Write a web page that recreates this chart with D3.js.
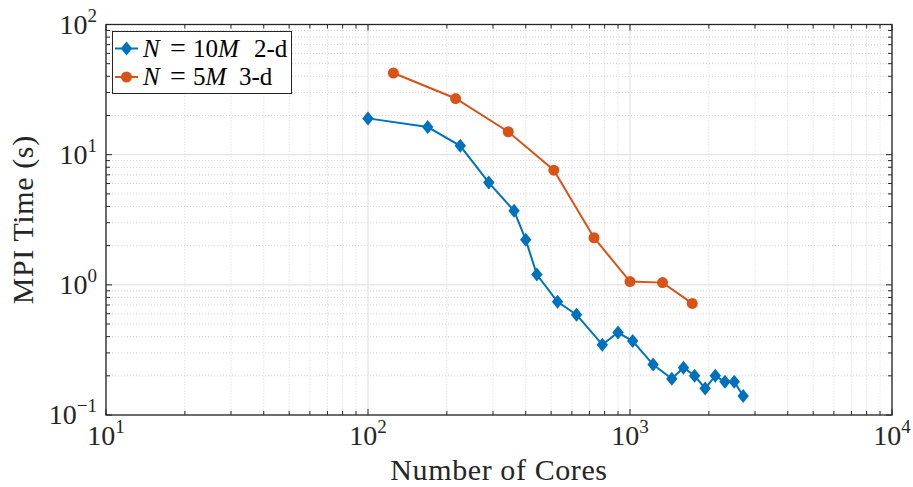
<!DOCTYPE html>
<html>
<head>
<meta charset="utf-8">
<script src="https://cdn.jsdelivr.net/npm/d3@7"></script>
<style>
  body { margin: 0; background: #fff; }
  svg { font-family: "Liberation Serif", "DejaVu Serif", serif; }
</style>
</head>
<body>
<svg id="chart" width="913" height="487"></svg>
<script>
// data
let coresSquare = [100, 169, 225, 289, 361, 400, 441, 529, 625, 784, 900, 1024, 1225, 1444, 1600, 1764, 1936, 2116, 2304, 2500, 2704];
let time2d = [19.0, 16.3, 11.7, 6.1, 3.7, 2.22, 1.2, 0.74, 0.59, 0.347, 0.43, 0.37, 0.244, 0.19, 0.231, 0.2, 0.16, 0.2, 0.18, 0.18, 0.14];
let coresCube = [125, 216, 343, 512, 729, 1000, 1331, 1728];
let time3d = [42.4, 27.0, 15.0, 7.6, 2.3, 1.06, 1.04, 0.72];
let xTickExps = [1, 2, 3, 4];
let yTickExps = [-1, 0, 1, 2];

const svg = d3.select('#chart');
const pLeft = 106, pRight = 892, pTop = 24.5, pBottom = 415;
const axisColor = '#262626';
const blue = '#0072BD', orange = '#D95319';

let x = d3.scaleLog().domain([10, 1e4]).range([pLeft, pRight]);
let y = d3.scaleLog().domain([0.1, 100]).range([pBottom, pTop]);

// minor/major values
let xMajor = xTickExps.map(e => Math.pow(10, e));
let yMajor = yTickExps.map(e => Math.pow(10, e));
let xMinor = [], yMinor = [];
for (let e = 1; e < 4; e++) for (let k = 2; k < 10; k++) xMinor.push(k * Math.pow(10, e));
for (let e = -1; e < 2; e++) for (let k = 2; k < 10; k++) yMinor.push(k * Math.pow(10, e));

let grid = svg.append('g');
// minor grid (dotted)
xMinor.forEach(v => grid.append('line')
    .attr('x1', x(v)).attr('x2', x(v)).attr('y1', pTop).attr('y2', pBottom)
    .attr('stroke', '#d4d4d4').attr('stroke-width', 1).attr('stroke-dasharray', '1,2'));
yMinor.forEach(v => grid.append('line')
    .attr('y1', y(v)).attr('y2', y(v)).attr('x1', pLeft).attr('x2', pRight)
    .attr('stroke', '#d4d4d4').attr('stroke-width', 1).attr('stroke-dasharray', '1,2'));
// major grid
xMajor.forEach(v => grid.append('line')
    .attr('x1', x(v)).attr('x2', x(v)).attr('y1', pTop).attr('y2', pBottom)
    .attr('stroke', '#e3e3e3').attr('stroke-width', 1.2));
yMajor.forEach(v => grid.append('line')
    .attr('y1', y(v)).attr('y2', y(v)).attr('x1', pLeft).attr('x2', pRight)
    .attr('stroke', '#e3e3e3').attr('stroke-width', 1.2));

// ticks on all four sides, pointing inward
let ticks = svg.append('g').attr('stroke', axisColor).attr('stroke-width', 1);
function xTick(v, len) {
    ticks.append('line').attr('x1', x(v)).attr('x2', x(v)).attr('y1', pBottom).attr('y2', pBottom - len);
    ticks.append('line').attr('x1', x(v)).attr('x2', x(v)).attr('y1', pTop).attr('y2', pTop + len);
}
function yTick(v, len) {
    ticks.append('line').attr('y1', y(v)).attr('y2', y(v)).attr('x1', pLeft).attr('x2', pLeft + len);
    ticks.append('line').attr('y1', y(v)).attr('y2', y(v)).attr('x1', pRight).attr('x2', pRight - len);
}
xMajor.forEach(v => xTick(v, 6));
xMinor.forEach(v => xTick(v, 4));
yMajor.forEach(v => yTick(v, 6));
yMinor.forEach(v => yTick(v, 4));

// axes box
svg.append('rect')
    .attr('x', pLeft).attr('y', pTop)
    .attr('width', pRight - pLeft).attr('height', pBottom - pTop)
    .attr('fill', 'none').attr('stroke', axisColor).attr('stroke-width', 1.3);

// tick labels
let fs = 28;
xTickExps.forEach(e => {
    let t = svg.append('text')
        .attr('x', x(Math.pow(10, e)))
        .attr('y', 445)
        .attr('text-anchor', 'middle')
        .attr('font-size', fs)
        .attr('fill', '#262626');
    t.append('tspan').text('10');
    t.append('tspan').attr('dy', -12).attr('font-size', 19).text(e);
});
yTickExps.forEach(e => {
    let t = svg.append('text')
        .attr('x', 97)
        .attr('y', y(Math.pow(10, e)) + 9)
        .attr('text-anchor', 'end')
        .attr('font-size', fs)
        .attr('fill', '#262626');
    t.append('tspan').text('10');
    t.append('tspan').attr('dy', -12).attr('font-size', 19).text(e < 0 ? '\u2212' + (-e) : e);
});

// axis labels
svg.append('text')
    .attr('x', (pLeft + pRight) / 2)
    .attr('y', 480)
    .attr('text-anchor', 'middle')
    .attr('font-size', 30)
    .attr('letter-spacing', 0.6)
    .attr('fill', '#262626')
    .text('Number of Cores');
svg.append('text')
    .attr('transform', `translate(33,${(pTop + pBottom) / 2}) rotate(-90)`)
    .attr('text-anchor', 'middle')
    .attr('font-size', 30)
    .attr('letter-spacing', 0.6)
    .attr('fill', '#262626')
    .text('MPI Time (s)');

// series
let line = d3.line().x(d => x(d[0])).y(d => y(d[1]));
let s2 = d3.zip(coresSquare, time2d);
let s3 = d3.zip(coresCube, time3d);

let diamond = (cx, cy) => `M${cx},${cy - 7}L${cx + 5.7},${cy}L${cx},${cy + 7}L${cx - 5.7},${cy}Z`;

svg.append('path').datum(s3)
    .attr('d', line).attr('fill', 'none').attr('stroke', orange).attr('stroke-width', 2);
svg.selectAll('.c3').data(s3).join('circle')
    .attr('class', 'c3')
    .attr('cx', d => x(d[0])).attr('cy', d => y(d[1])).attr('r', 5.5)
    .attr('fill', orange);

svg.append('path').datum(s2)
    .attr('d', line).attr('fill', 'none').attr('stroke', blue).attr('stroke-width', 2);
svg.selectAll('.d2').data(s2).join('path')
    .attr('class', 'd2')
    .attr('d', d => diamond(x(d[0]), y(d[1])))
    .attr('fill', blue);

// legend
let lg = svg.append('g');
lg.append('rect')
    .attr('x', 112.5).attr('y', 31.5).attr('width', 179).attr('height', 62)
    .attr('fill', '#fff').attr('stroke', axisColor).attr('stroke-width', 1);
let legendItems = [
    {num: '10', color: blue, mark: 'diamond', tail: '2-d', tailX: 254, cy: 48.5},
    {num: '5', color: orange, mark: 'circle', tail: '3-d', tailX: 239, cy: 77}
];
legendItems.forEach(it => {
    lg.append('line').attr('x1', 115).attr('x2', 138).attr('y1', it.cy).attr('y2', it.cy)
        .attr('stroke', it.color).attr('stroke-width', 2);
    if (it.mark === 'diamond') {
        lg.append('path').attr('d', diamond(126.5, it.cy)).attr('fill', it.color);
    } else {
        lg.append('circle').attr('cx', 126.5).attr('cy', it.cy).attr('r', 5.5).attr('fill', it.color);
    }
    let t = lg.append('text').attr('y', it.cy + 8)
        .attr('font-size', 25).attr('fill', '#000');
    t.append('tspan').attr('x', 143).attr('font-style', 'italic').text('N');
    t.append('tspan').attr('x', 170).attr('font-size', 28).text('=');
    t.append('tspan').attr('x', 193).text(it.num);
    t.append('tspan').attr('font-style', 'italic').text('M');
    t.append('tspan').attr('x', it.tailX).text(it.tail);
});
</script>
</body>
</html>
